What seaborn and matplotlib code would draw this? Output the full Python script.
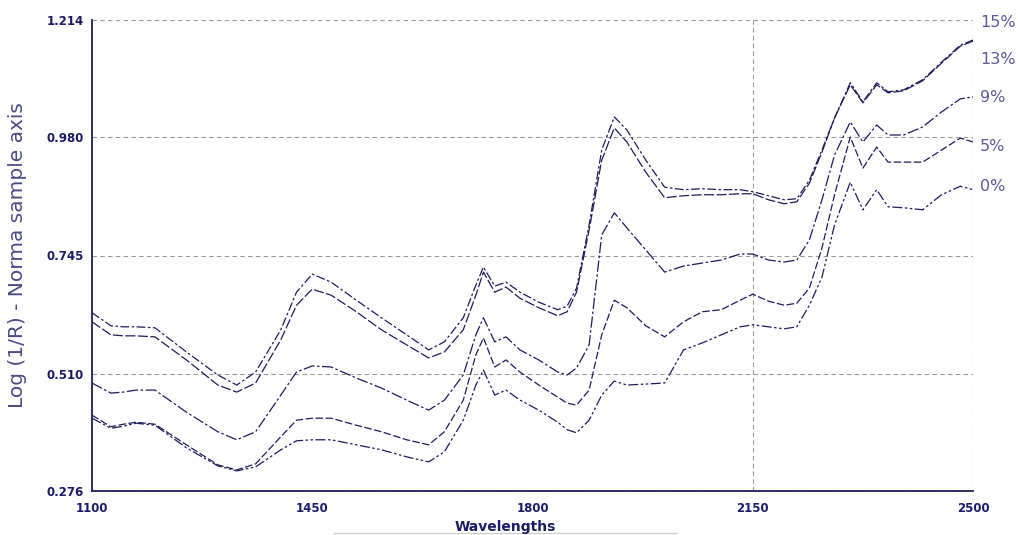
import numpy as np
import pandas as pd
import matplotlib
matplotlib.use("Agg")
import matplotlib.pyplot as plt
from matplotlib.lines import Line2D
import seaborn as sns

sns.set_style("white")
plt.rcParams['font.family'] = ['DejaVu Sans']

# wavelengths (nm) sampled along the spectra
wavelengths = [1100, 1130, 1150, 1170, 1200, 1250, 1300, 1330, 1360, 1400,
               1425, 1450, 1480, 1520, 1560, 1600, 1635, 1660, 1690, 1710,
               1722, 1740, 1758, 1780, 1810, 1840, 1855, 1870, 1890, 1910,
               1930, 1950, 1980, 2010, 2040, 2070, 2100, 2130, 2150, 2175,
               2200, 2220, 2240, 2260, 2280, 2305, 2325, 2347, 2365, 2390,
               2420, 2450, 2480, 2500]

spec_15 = [0.631, 0.605, 0.603, 0.603, 0.601, 0.553, 0.507, 0.487, 0.513, 0.597,
           0.672, 0.708, 0.692, 0.656, 0.621, 0.587, 0.557, 0.573, 0.621, 0.686,
           0.722, 0.684, 0.692, 0.672, 0.652, 0.637, 0.644, 0.680, 0.806, 0.955,
           1.021, 0.995, 0.935, 0.881, 0.876, 0.878, 0.876, 0.876, 0.872, 0.864,
           0.856, 0.858, 0.895, 0.955, 1.019, 1.089, 1.051, 1.089, 1.071, 1.075,
           1.095, 1.130, 1.164, 1.174]
spec_13 = [0.613, 0.587, 0.585, 0.585, 0.583, 0.537, 0.487, 0.473, 0.491, 0.577,
           0.646, 0.678, 0.666, 0.633, 0.597, 0.567, 0.541, 0.553, 0.597, 0.666,
           0.712, 0.672, 0.682, 0.660, 0.641, 0.625, 0.633, 0.672, 0.796, 0.935,
           0.999, 0.971, 0.911, 0.860, 0.864, 0.866, 0.866, 0.868, 0.868, 0.856,
           0.848, 0.852, 0.889, 0.951, 1.019, 1.085, 1.049, 1.085, 1.069, 1.073,
           1.093, 1.128, 1.162, 1.172]
spec_9 = [0.491, 0.471, 0.473, 0.477, 0.477, 0.433, 0.394, 0.378, 0.394, 0.467,
          0.513, 0.525, 0.523, 0.501, 0.481, 0.457, 0.437, 0.457, 0.507, 0.587,
          0.621, 0.573, 0.583, 0.557, 0.537, 0.513, 0.507, 0.521, 0.567, 0.786,
          0.830, 0.800, 0.756, 0.712, 0.724, 0.730, 0.736, 0.748, 0.748, 0.736,
          0.732, 0.736, 0.776, 0.856, 0.945, 1.011, 0.971, 1.005, 0.985, 0.985,
          1.001, 1.031, 1.057, 1.061]
spec_5 = [0.427, 0.404, 0.409, 0.413, 0.409, 0.368, 0.328, 0.318, 0.330, 0.384,
          0.417, 0.421, 0.421, 0.407, 0.394, 0.378, 0.368, 0.394, 0.457, 0.547,
          0.581, 0.523, 0.537, 0.513, 0.487, 0.463, 0.451, 0.447, 0.477, 0.587,
          0.656, 0.641, 0.605, 0.583, 0.613, 0.633, 0.637, 0.656, 0.668, 0.654,
          0.646, 0.650, 0.680, 0.760, 0.866, 0.981, 0.919, 0.961, 0.931, 0.931,
          0.931, 0.955, 0.979, 0.971]
spec_0 = [0.421, 0.401, 0.405, 0.411, 0.407, 0.362, 0.326, 0.316, 0.324, 0.358,
          0.376, 0.378, 0.378, 0.368, 0.358, 0.344, 0.334, 0.354, 0.417, 0.487,
          0.517, 0.467, 0.477, 0.457, 0.437, 0.413, 0.398, 0.392, 0.417, 0.467,
          0.495, 0.487, 0.489, 0.491, 0.557, 0.571, 0.587, 0.603, 0.607, 0.603,
          0.599, 0.603, 0.646, 0.702, 0.806, 0.891, 0.836, 0.876, 0.842, 0.840,
          0.836, 0.866, 0.883, 0.876]

series_labels = ['15%', '13%', '9%', '5%', '0%']
x_ticks = [1100, 1450, 1800, 2150, 2500]
y_ticks = [0.276, 0.510, 0.745, 0.980, 1.214]
y_tick_labels = ['0.276', '0.510', '0.745', '0.980', '1.214']

line_color = '#1c1c5e'
tick_color = '#1a1a6e'
label_color = '#5a5a9c'
grid_color = '#9a9a9a'

spectra = [spec_15, spec_13, spec_9, spec_5, spec_0]
styles = [(0, (7, 2, 2, 2)), (0, (8, 2)), (0, (9, 2, 2, 2)), (0, (6, 2)), (0, (8, 2, 2, 2, 2, 2))]

fig = plt.figure(figsize=(10.18, 5.35), dpi=100)
ax = fig.add_axes([92 / 1018, 44 / 535, 881 / 1018, 471 / 535])

for vals, ls in zip(spectra, styles):
    sns.lineplot(x=wavelengths, y=vals, ax=ax, color=line_color, lw=0.9, linestyle=ls)

ax.set_xlim(1100, 2500)
ax.set_ylim(0.276, 1.214)
ax.set_xticks(x_ticks)
ax.set_xticklabels([str(t) for t in x_ticks])
ax.set_yticks(y_ticks)
ax.set_yticklabels(y_tick_labels)
ax.tick_params(axis='x', direction='in', length=3, color=line_color, pad=8,
               labelsize=8.5, labelcolor=tick_color)
ax.tick_params(axis='y', length=0, pad=6, labelsize=8.5, labelcolor=tick_color)
for lab in ax.get_xticklabels() + ax.get_yticklabels():
    lab.set_fontweight('bold')

grid_kw = dict(color=grid_color, lw=0.8, linestyle=(0, (4, 3)), zorder=0)
for y in y_ticks:
    ax.axhline(y, **grid_kw)
ax.axvline(2150, **grid_kw)
ax.axvline(2500, **grid_kw)

for side in ['top', 'right']:
    ax.spines[side].set_visible(False)
for side in ['left', 'bottom']:
    ax.spines[side].set_color(line_color)
    ax.spines[side].set_linewidth(1.3)

ax.set_ylabel('Log (1/R) - Norma sample axis', fontsize=14.5, color='#4a4a8a')
ax.yaxis.set_label_coords(-0.074, 0.5)
ax.set_xlabel('')

# series labels on the right edge
label_y = [1.210, 1.136, 1.059, 0.963, 0.883]
for txt, y in zip(series_labels, label_y):
    ax.text(1.008, y, txt, transform=ax.get_yaxis_transform(), fontsize=11.5,
            color=label_color, va='center', ha='left', clip_on=False)

fig.text(505 / 1018, 1 - 527 / 535, 'Wavelengths', ha='center', va='center',
         fontsize=10, fontweight='bold', color=tick_color)
fig.add_artist(Line2D([333 / 1018, 677 / 1018], [1 - 533 / 535, 1 - 533 / 535],
                      color='#cfcfcf', lw=1.0, transform=fig.transFigure))

fig.savefig('out.png', dpi=100)
